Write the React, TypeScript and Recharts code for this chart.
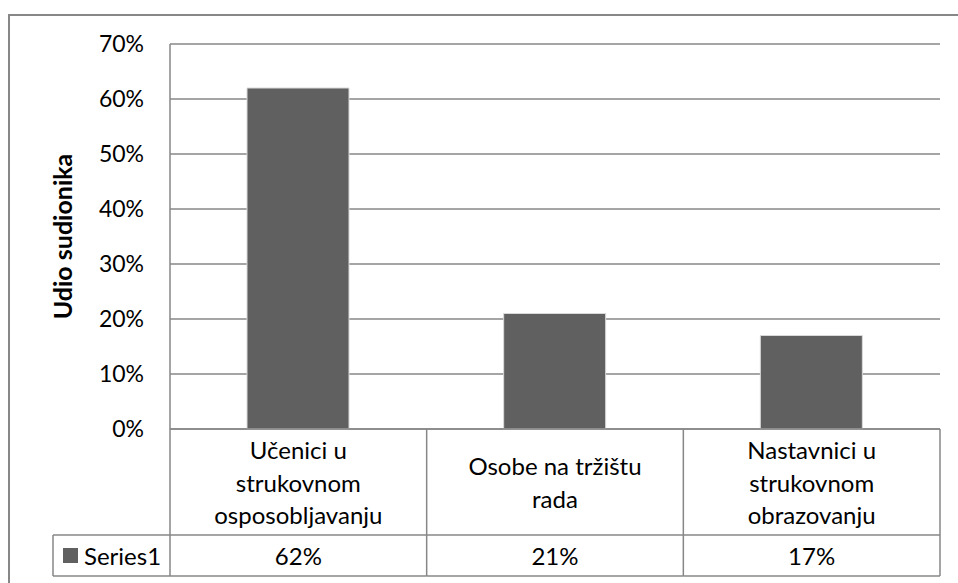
import { BarChart, Bar, XAxis, YAxis, CartesianGrid } from 'recharts'

const CATEGORIES = [
  'Učenici u strukovnom osposobljavanju',
  'Osobe na tržištu rada',
  'Nastavnici u strukovnom obrazovanju',
]
const CATEGORY_LINES = [
  ['Učenici u', 'strukovnom', 'osposobljavanju'],
  ['Osobe na tržištu', 'rada'],
  ['Nastavnici u', 'strukovnom', 'obrazovanju'],
]
const SERIES_NAME = 'Series1'
const VALUES = [62, 21, 17]
const Y_TICKS = [0, 10, 20, 30, 40, 50, 60, 70]
const Y_TITLE = 'Udio sudionika'

const data = CATEGORIES.map((name, i) => ({ name, value: VALUES[i] }))

const FONT = 'Lato, sans-serif'
const LINE = '#878787'
const BAR = '#606060'
const FS = 24

// data table under the plot, drawn per category tick
function TableTick(props: any) {
  const { x, y, payload, index } = props
  const half = payload?.offset ?? 128
  const left = x - half
  const right = x + half
  const rowH = 106
  const valH = 41
  const lines = CATEGORY_LINES[index] || []
  const lineGap = 32.5
  const mid = y + rowH / 2
  const startY = mid - ((lines.length - 1) * lineGap) / 2
  return (
    <g>
      <line x1={left} y1={y} x2={left} y2={y + rowH + valH} stroke={LINE} strokeWidth={1.5} />
      {index === CATEGORIES.length - 1 && (
        <line x1={right} y1={y} x2={right} y2={y + rowH + valH} stroke={LINE} strokeWidth={1.5} />
      )}
      <line x1={left} y1={y + rowH} x2={right} y2={y + rowH} stroke={LINE} strokeWidth={1.5} />
      <line x1={left} y1={y + rowH + valH} x2={right} y2={y + rowH + valH} stroke={LINE} strokeWidth={1.5} />
      {lines.map((t, i) => (
        <text key={i} x={x} y={startY + i * lineGap} textAnchor="middle" dominantBaseline="central"
          fontSize={FS} fontFamily={FONT} fill="#000">
          {t}
        </text>
      ))}
      <text x={x} y={y + rowH + valH / 2} textAnchor="middle" dominantBaseline="central"
        fontSize={FS} fontFamily={FONT} fill="#000">
        {VALUES[index]}%
      </text>
      {index === 0 && (
        <g>
          <line x1={left - 117} y1={y + rowH} x2={left} y2={y + rowH} stroke={LINE} strokeWidth={1.5} />
          <line x1={left - 117} y1={y + rowH + valH} x2={left} y2={y + rowH + valH} stroke={LINE} strokeWidth={1.5} />
          <line x1={left - 117} y1={y + rowH} x2={left - 117} y2={y + rowH + valH} stroke={LINE} strokeWidth={1.5} />
          <rect x={left - 107} y={y + rowH + 13} width={15} height={15} fill={BAR} />
          <text x={left - 86} y={y + rowH + valH / 2} dominantBaseline="central"
            fontSize={FS} fontFamily={FONT} fill="#000">
            {SERIES_NAME}
          </text>
        </g>
      )}
    </g>
  )
}

function YTitle(props: any) {
  const vb = props.viewBox || {}
  const cx = vb.x - 48
  const cy = vb.y + vb.height / 2
  return (
    <text x={cx} y={cy} transform={`rotate(-90, ${cx}, ${cy})`} textAnchor="middle"
      dominantBaseline="central" fontSize={25} fontWeight="bold" fontFamily={FONT} fill="#000">
      {Y_TITLE}
    </text>
  )
}

export default function App() {
  return (
    <div style={{ position: 'absolute', left: 0, top: 0, width: 958, height: 583, overflow: 'hidden', background: '#fff' }}>
      <div style={{
        position: 'absolute', left: 8, top: 14, width: 960, height: 580,
        borderLeft: `2px solid ${LINE}`, borderTop: `2px solid ${LINE}`,
      }} />
      <div style={{ position: 'absolute', left: 0, top: 0 }}>
        <BarChart width={958} height={583} data={data}
          margin={{ top: 44, right: 18, left: 110, bottom: 0 }}>
          <CartesianGrid vertical={false} stroke={LINE} strokeWidth={1.5} />
          <XAxis dataKey="name" height={154} tickSize={0} tickMargin={0} interval={0}
            axisLine={{ stroke: LINE, strokeWidth: 1.5 }} tickLine={false} tick={<TableTick />} />
          <YAxis width={60} domain={[0, 70]} ticks={Y_TICKS} tickFormatter={(v) => `${v}%`}
            tickSize={0} tickMargin={26} tickLine={false}
            axisLine={{ stroke: LINE, strokeWidth: 1.5 }}
            tick={{ fill: '#000', fontSize: 23, fontFamily: FONT }}
            label={<YTitle />} />
          <Bar dataKey="value" fill={BAR} stroke="#d9d9d9" strokeWidth={1} barSize={102}
            isAnimationActive={false} />
        </BarChart>
      </div>
    </div>
  )
}
